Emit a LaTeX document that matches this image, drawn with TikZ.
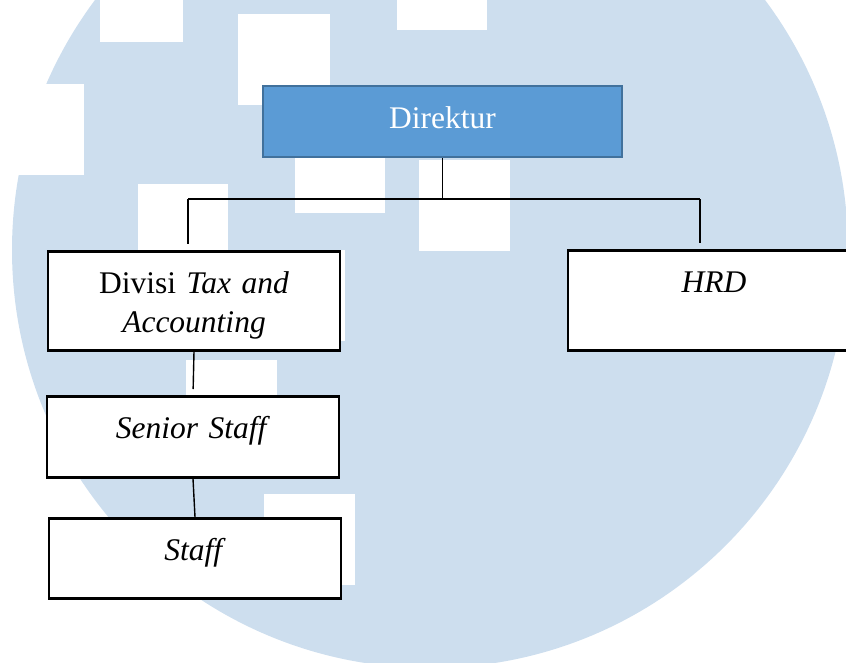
\documentclass[tikz,border=0pt]{standalone}
\usepackage{fontspec}
\setmainfont{Liberation Serif}
\definecolor{wmblue}{RGB}{205,222,238}
\definecolor{headfill}{RGB}{91,155,213}
\definecolor{headline}{RGB}{65,113,156}
\begin{document}
\begin{tikzpicture}[
    x=1pt, y=-1pt,
    box/.style={rectangle, draw, line width=2.6pt, fill=white, inner sep=0pt, text width=292pt, align=center, text height=42pt, text depth=#1, anchor=north, font=\fontsize{31.5}{39}\selectfont},
    head/.style={box=29pt, draw=headline, line width=2pt, fill=headfill, text=white, text width=359pt},
    link/.style={line width=1.4pt},
    watermark/.style={fill=wmblue},
    gap/.style={fill=white}
]
\useasboundingbox (0,0) rectangle (846,662);
\clip (0,0) rectangle (846,662);

% Watermark
\fill[watermark] (430,250) circle (418);
\foreach \x/\y/\w/\h in {100/-5/83/47, 238/14/92/91, 397/-5/90/35, -5/84/89/91, 138/184/90/91,
    295/122/90/91, 419/160/91/91, 186/360/91/91, 264/494/91/91, 254/250/91/91}
  \fill[gap] (\x,\y) rectangle ++(\w,\h);

% Top level
\node[head] (direktur) at (442.5,85) {Direktur};

% Second level
\node[box=57pt] (divisi) at (194,250) {Divisi \textit{Tax and}\\\textit{Accounting}};
\node[box=58pt] (hrd) at (714,249) {\textit{HRD}};

% Third and fourth level
\node[box=39pt] (senior) at (193,395) {\textit{Senior Staff}};
\node[box=38pt] (staff) at (195,517) {\textit{Staff}};

% Connectors
\coordinate (busL) at (188,199);
\coordinate (busR) at (700,199);
\draw[link] (direktur.south) -- (direktur.south |- busL);
\draw[link, line width=2pt] (busL) -- (busR);
\draw[link, shorten >=6pt] (busL) -- (busL |- divisi.north);
\draw[link, shorten >=6pt] (busR) -- (busR |- hrd.north);
\draw[link, shorten >=6pt] (divisi.south) -- (senior.north);
\draw[link] (senior.south) -- (staff.north);

\end{tikzpicture}
\end{document}
